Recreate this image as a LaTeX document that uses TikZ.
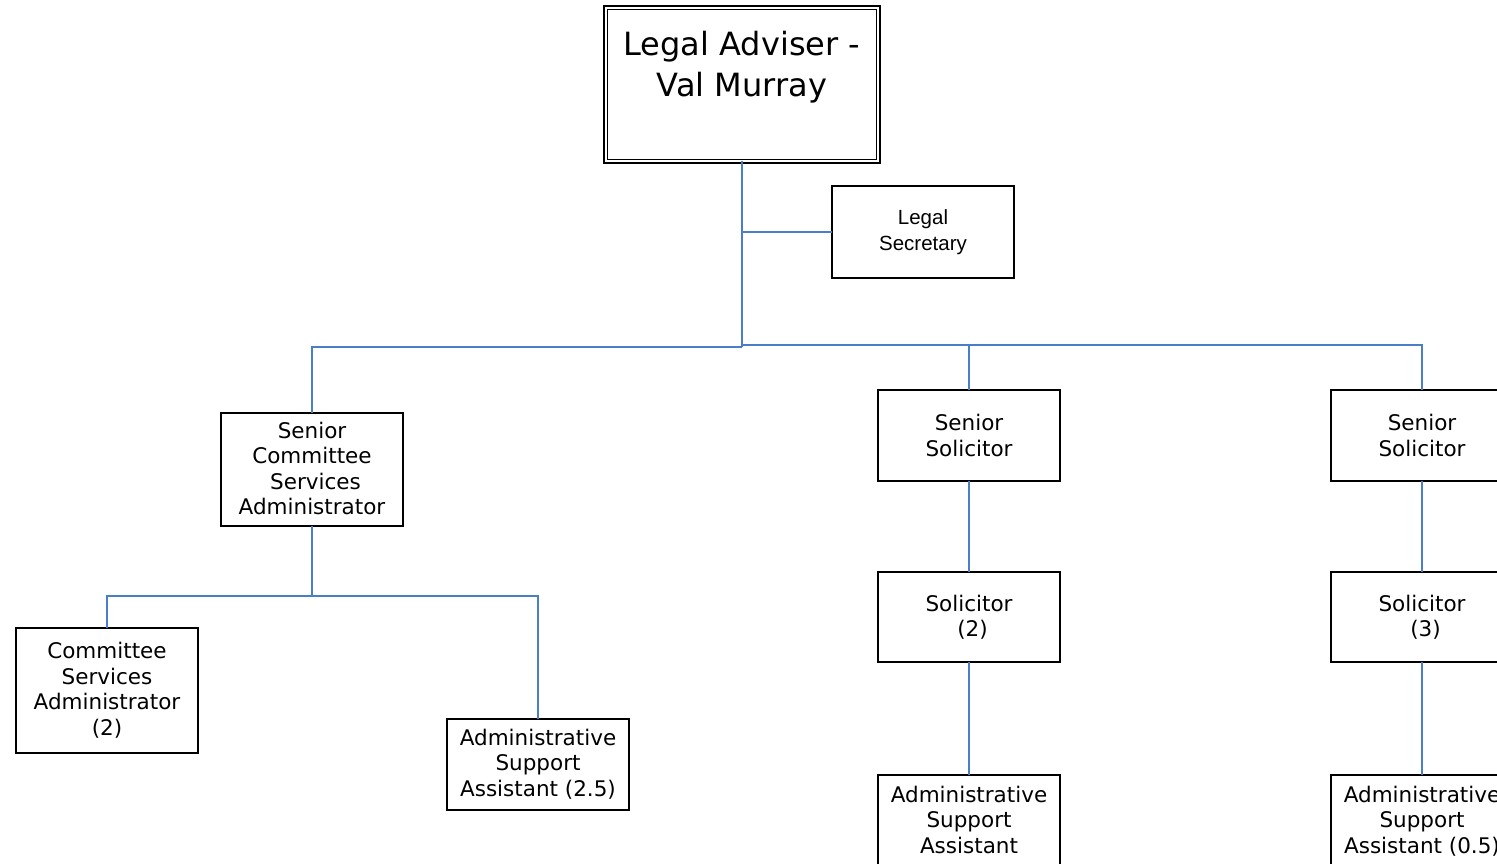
\documentclass[tikz,border=0pt]{standalone}
\usepackage{fontspec}
\setmainfont{DejaVu Sans}
\newfontfamily\arialf{Liberation Sans}
\definecolor{lnblue}{HTML}{4A7EC7}
\newcommand\boxtxt[4]{\parbox[b][#2pt][t]{#1pt}{\vspace*{\dimexpr #3pt - 0.7\baselineskip\relax}\centering\strut #4\par}}
\tikzset{
  orgbox/.style={draw=black, line width=1.3pt, inner sep=0pt, outer sep=0pt, anchor=north west,
    font=\fontsize{21.5}{25.5}\selectfont},
  conn/.style={draw=lnblue, line width=1.8pt}
}
\begin{document}
\begin{tikzpicture}[x=1pt,y=-1pt]
\useasboundingbox (0,0) rectangle (1497,864);
\clip (0,0) rectangle (1497,864);
% top
\node[draw=black, double, double distance=2.4pt, line width=1.4pt, inner sep=0pt, outer sep=0pt,
      anchor=north west, font=\fontsize{32}{41}\selectfont] (top) at (605.75,7.75)
  {\boxtxt{272.5}{153.5}{47.5}{Legal Adviser -\\Val Murray}};
\node[orgbox, font=\arialf\fontsize{20.5}{26}\selectfont] (sec) at (832,186)
  {\boxtxt{182}{92}{38.5}{Legal\\Secretary}};
\node[orgbox] (scsa) at (221,413) {\boxtxt{182}{113}{25}{Senior\\Committee\\\hspace*{7pt}Services\\Administrator}};
\node[orgbox] (csa) at (16,628) {\boxtxt{182}{125}{30.5}{Committee\\Services\\Administrator\\(2)}};
\node[orgbox] (asa25) at (447,719) {\boxtxt{182}{91}{26}{Administrative\\Support\\Assistant (2.5)}};
\node[orgbox] (ss1) at (878,390) {\boxtxt{182}{91}{40.5}{Senior\\Solicitor}};
\node[orgbox] (sol2) at (878,572) {\boxtxt{182}{90}{39}{Solicitor\\\hspace*{7pt}(2)}};
\node[orgbox] (asa1) at (878,775) {\boxtxt{182}{91}{27}{Administrative\\Support\\Assistant}};
\node[orgbox] (ss2) at (1331,390) {\boxtxt{182}{91}{40.5}{Senior\\Solicitor}};
\node[orgbox] (sol3) at (1331,572) {\boxtxt{182}{90}{39}{Solicitor\\\hspace*{7pt}(3)}};
\node[orgbox] (asa2) at (1331,775) {\boxtxt{182}{91}{27}{Administrative\\Support\\Assistant (0.5)}};
% connectors
\coordinate (hubL) at (742,347);
\coordinate (hubR) at (742,345);
\coordinate (hub2) at (312,596);
\draw[conn] (top.south) -- (hubL);
\draw[conn] (top.south |- sec.west) -- (sec.west);
\draw[conn] (hubL) -| (scsa.north);
\draw[conn] (hubR) -| (ss2.north);
\draw[conn] (hubR -| ss1.north) -- (ss1.north);
\draw[conn] (scsa.south) -- (hub2);
\draw[conn] (hub2) -| (csa.north);
\draw[conn] (hub2) -| (asa25.north);
\draw[conn] (ss1.south) -- (sol2.north);
\draw[conn] (sol2.south) -- (asa1.north);
\draw[conn] (ss2.south) -- (sol3.north);
\draw[conn] (sol3.south) -- (asa2.north);
\end{tikzpicture}
\end{document}
